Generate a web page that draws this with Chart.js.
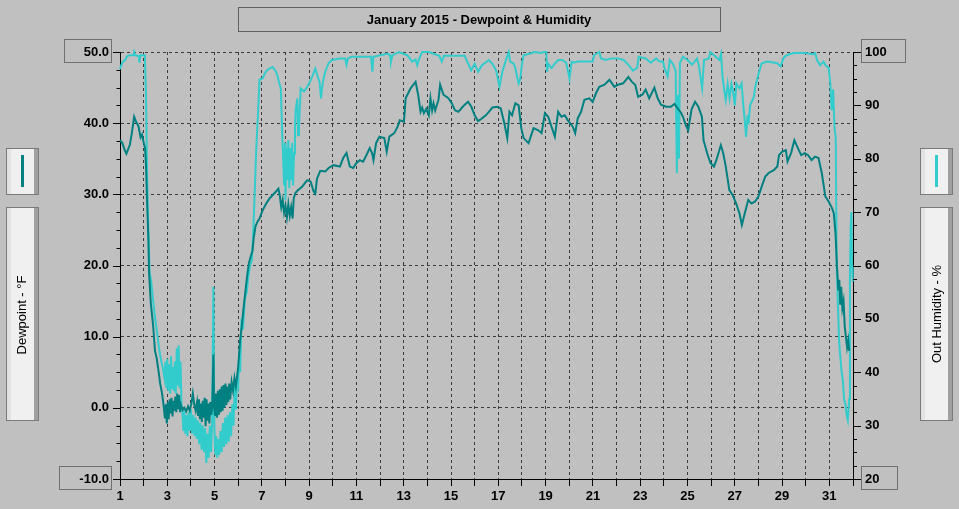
<!DOCTYPE html>
<html>
<head>
<meta charset="utf-8">
<title>January 2015 - Dewpoint & Humidity</title>
<script src="https://cdn.jsdelivr.net/npm/chart.js@4.4.0/dist/chart.umd.min.js"></script>
<style>
    html, body { margin: 0; padding: 0; background: #c0c0c0; overflow: hidden; }
    #chart { display: block; }
</style>
</head>
<body>
<canvas id="chart" width="959" height="509"></canvas>
<script>
const chartTitle = 'January 2015 - Dewpoint & Humidity';
const dewAxisTitle = 'Dewpoint - °F';
const humAxisTitle = 'Out Humidity - %';

// tick labels
const dayLabels = [1, 3, 5, 7, 9, 11, 13, 15, 17, 19, 21, 23, 25, 27, 29, 31];
const dewTicks = [-10, 0, 10, 20, 30, 40, 50];
const humTicks = [20, 30, 40, 50, 60, 70, 80, 90, 100];

// dewpoint readings (°F), day of month as fractional day
const dewDays = [
    1.00, 1.10, 1.20, 1.27, 1.35, 1.42, 1.50, 1.60, 1.68, 1.78, 1.87, 1.93, 2.00, 2.06, 2.10, 2.15,
    2.20, 2.23, 2.30, 2.40, 2.48, 2.55, 2.62, 2.70, 2.78, 2.85, 2.90, 2.94, 2.98, 3.02, 3.06, 3.10,
    3.14, 3.18, 3.22, 3.26, 3.30, 3.34, 3.38, 3.42, 3.46, 3.50, 3.54, 3.58, 3.65, 3.72, 3.80, 3.88,
    3.95, 4.02, 4.08, 4.14, 4.20, 4.26, 4.30, 4.34, 4.38, 4.42, 4.46, 4.50, 4.54, 4.58, 4.62, 4.66,
    4.70, 4.74, 4.78, 4.82, 4.86, 4.90, 4.95, 4.98, 5.02, 5.06, 5.10, 5.14, 5.18, 5.22, 5.26, 5.30,
    5.34, 5.38, 5.42, 5.46, 5.50, 5.54, 5.58, 5.62, 5.66, 5.72, 5.78, 5.84, 5.90, 5.96, 6.00, 6.08,
    6.15, 6.22, 6.30, 6.38, 6.45, 6.52, 6.60, 6.66, 6.73, 6.82, 6.90, 7.00, 7.10, 7.20, 7.32, 7.46,
    7.60, 7.70, 7.76, 7.82, 7.88, 7.94, 8.00, 8.06, 8.12, 8.18, 8.24, 8.30, 8.35, 8.42, 8.50, 8.60,
    8.71, 8.85, 8.92, 9.06, 9.19, 9.26, 9.33, 9.47, 9.68, 9.82, 10.03, 10.30, 10.44, 10.58, 10.72, 10.86,
    11.00, 11.14, 11.28, 11.42, 11.56, 11.66, 11.72, 11.83, 11.97, 12.18, 12.28, 12.39, 12.60, 12.74, 12.83, 13.01,
    13.08, 13.29, 13.50, 13.61, 13.71, 13.78, 13.85, 13.95, 14.06, 14.13, 14.20, 14.26, 14.33, 14.47, 14.54, 14.68,
    14.89, 15.03, 15.17, 15.31, 15.44, 15.58, 15.72, 15.86, 16.00, 16.14, 16.28, 16.47, 16.60, 16.75, 16.96, 17.10,
    17.24, 17.38, 17.47, 17.58, 17.72, 17.86, 17.97, 18.07, 18.28, 18.49, 18.69, 18.83, 18.97, 19.11, 19.25, 19.39,
    19.53, 19.67, 19.81, 19.94, 20.15, 20.25, 20.36, 20.50, 20.64, 20.85, 20.99, 21.13, 21.27, 21.49, 21.70, 21.91,
    22.06, 22.28, 22.50, 22.65, 22.79, 22.91, 23.09, 23.23, 23.38, 23.60, 23.74, 23.88, 24.10, 24.30, 24.45, 24.60,
    24.72, 24.81, 24.92, 25.03, 25.17, 25.32, 25.46, 25.61, 25.68, 25.83, 25.97, 26.12, 26.22, 26.41, 26.51, 26.62,
    26.77, 26.91, 27.06, 27.20, 27.30, 27.42, 27.57, 27.71, 27.86, 28.00, 28.14, 28.29, 28.43, 28.65, 28.80, 28.87,
    29.01, 29.16, 29.23, 29.38, 29.52, 29.67, 29.81, 29.96, 30.10, 30.25, 30.39, 30.54, 30.68, 30.83, 30.97, 31.12,
    31.19, 31.26, 31.32, 31.38, 31.42, 31.46, 31.50, 31.55, 31.60, 31.65, 31.70, 31.75, 31.80, 31.84
];
const dewValues = [
    37.6, 37.2, 36.2, 35.7, 36.4, 37.0, 38.6, 40.9, 40.2, 39.6, 38.0, 38.4, 37.3, 36.5, 34.0, 28.5,
    23.8, 19.0, 14.8, 11.6, 8.0, 7.0, 5.4, 3.4, 2.0, 0.2, -1.5, 0.5, -2.2, 0.8, -1.6, 1.2,
    -0.8, 1.4, -1.2, 1.0, -0.4, 1.6, -0.6, 2.0, -0.2, 1.8, -0.6, 0.4, -0.3, 0.0, -0.5, 0.2,
    -0.4, 0.6, 2.0, 0.5, -0.4, 0.8, -1.0, 1.2, -1.6, 0.6, -2.0, 1.0, -1.4, 1.4, -2.6, 1.2,
    -1.8, 0.6, -2.2, 0.8, -1.0, 0.2, 7.5, 0.0, -1.0, 2.0, -1.4, 2.4, -1.0, 2.6, -0.6, 3.0,
    -0.4, 3.2, 0.0, 3.4, 0.4, 3.0, 0.8, 3.4, 1.2, 3.6, 2.4, 4.2, 3.0, 4.6, 5.8, 9.5,
    11.5, 13.8, 16.3, 18.6, 20.3, 21.2, 22.0, 24.0, 25.5, 26.2, 26.6, 27.5, 28.2, 28.8, 29.4, 29.9,
    30.4, 30.8, 29.8, 28.2, 29.2, 27.4, 28.4, 26.8, 28.6, 27.0, 28.2, 26.6, 29.5, 30.2, 30.5, 30.8,
    31.1, 31.7, 32.0, 31.8, 30.4, 30.1, 32.2, 33.3, 33.2, 33.7, 34.1, 33.9, 35.1, 35.8, 33.9, 33.7,
    34.4, 34.8, 34.6, 35.5, 36.5, 35.8, 34.8, 37.2, 38.1, 37.9, 36.0, 38.1, 38.6, 39.5, 40.4, 40.2,
    43.5, 44.9, 45.8, 44.0, 41.6, 42.2, 41.4, 42.0, 41.1, 43.5, 41.8, 42.8, 41.8, 43.3, 45.4, 44.0,
    43.5, 42.8, 41.8, 41.6, 42.1, 42.6, 43.0, 42.3, 41.1, 40.3, 40.6, 41.1, 41.6, 42.2, 42.3, 42.1,
    40.2, 37.9, 41.6, 41.1, 42.8, 42.5, 39.3, 37.9, 37.2, 39.3, 39.0, 38.6, 41.4, 40.9, 39.5, 38.1,
    41.6, 40.9, 41.1, 40.4, 39.5, 38.6, 40.7, 41.6, 43.3, 43.5, 43.0, 44.2, 45.1, 45.4, 46.1, 45.1,
    45.4, 45.6, 46.5, 45.8, 45.4, 43.7, 44.0, 44.7, 43.5, 45.0, 43.5, 42.6, 42.3, 42.3, 42.7, 42.0,
    41.5, 40.9, 39.8, 39.0, 41.9, 43.0, 42.3, 40.9, 37.6, 35.8, 34.4, 33.9, 34.8, 36.9, 35.8, 33.9,
    30.6, 29.9, 28.7, 27.3, 25.7, 27.3, 29.2, 28.7, 29.0, 29.7, 31.1, 32.5, 33.0, 33.4, 33.9, 35.5,
    36.0, 36.2, 34.6, 35.8, 37.6, 36.5, 35.5, 35.8, 35.5, 34.8, 35.3, 35.1, 33.0, 29.7, 29.0, 28.0,
    27.3, 24.5, 20.0, 16.5, 18.0, 14.5, 17.0, 14.0, 15.0, 11.5, 10.0, 8.5, 9.5, 8.0
];

// outside humidity readings (%)
const humDays = [
    1.00, 1.05, 1.12, 1.22, 1.30, 1.40, 1.58, 1.60, 1.64, 1.80, 1.82, 1.86, 2.05, 2.10, 2.15, 2.20,
    2.25, 2.32, 2.40, 2.46, 2.52, 2.60, 2.68, 2.75, 2.82, 2.88, 2.92, 2.96, 3.00, 3.04, 3.08, 3.12,
    3.16, 3.20, 3.24, 3.28, 3.32, 3.36, 3.40, 3.44, 3.48, 3.52, 3.56, 3.60, 3.64, 3.68, 3.72, 3.76,
    3.80, 3.85, 3.90, 3.95, 4.00, 4.05, 4.10, 4.15, 4.20, 4.25, 4.30, 4.35, 4.40, 4.45, 4.50, 4.55,
    4.60, 4.65, 4.70, 4.75, 4.80, 4.85, 4.90, 4.95, 4.99, 5.03, 5.07, 5.11, 5.15, 5.20, 5.25, 5.30,
    5.35, 5.40, 5.45, 5.50, 5.55, 5.60, 5.65, 5.70, 5.75, 5.80, 5.85, 5.90, 5.95, 6.00, 6.04, 6.08,
    6.14, 6.20, 6.28, 6.36, 6.42, 6.50, 6.58, 6.64, 6.70, 6.76, 6.83, 6.90, 7.04, 7.10, 7.20, 7.32,
    7.46, 7.60, 7.66, 7.74, 7.80, 7.86, 7.90, 7.94, 7.98, 8.00, 8.04, 8.08, 8.12, 8.16, 8.20, 8.24,
    8.28, 8.32, 8.36, 8.40, 8.43, 8.50, 8.53, 8.57, 8.64, 8.78, 8.92, 9.03, 9.13, 9.26, 9.36, 9.44,
    9.50, 9.58, 9.68, 9.82, 9.96, 10.30, 10.52, 10.58, 10.64, 10.79, 11.56, 11.62, 11.67, 11.72, 12.32, 12.42,
    12.46, 12.52, 12.80, 13.15, 13.36, 13.50, 13.57, 13.64, 13.78, 14.06, 14.50, 14.61, 14.70, 15.58, 15.65, 15.72,
    15.85, 16.00, 16.15, 16.30, 16.45, 16.60, 16.75, 16.90, 16.98, 17.05, 17.17, 17.30, 17.44, 17.50, 17.65, 17.72,
    17.79, 17.86, 17.93, 18.00, 18.07, 18.42, 18.49, 18.83, 18.90, 19.03, 19.06, 19.11, 19.25, 19.39, 19.53, 19.70,
    19.87, 20.01, 20.10, 20.20, 20.36, 20.99, 21.05, 21.27, 21.34, 21.55, 21.77, 22.06, 22.30, 22.50, 22.70, 22.87,
    22.94, 23.23, 23.45, 23.67, 23.81, 23.96, 24.03, 24.16, 24.25, 24.38, 24.50, 24.55, 24.60, 24.64, 24.68, 24.81,
    25.00, 25.20, 25.40, 25.48, 25.62, 25.70, 25.90, 25.97, 26.19, 26.35, 26.42, 26.48, 26.55, 26.62, 26.70, 26.78,
    26.86, 26.93, 27.00, 27.07, 27.20, 27.29, 27.36, 27.42, 27.48, 27.54, 27.58, 27.65, 27.80, 27.87, 28.01, 28.14,
    28.38, 28.80, 28.94, 29.03, 29.10, 29.25, 29.50, 29.97, 30.30, 30.40, 30.48, 30.61, 30.75, 30.84, 30.97, 31.04,
    31.10, 31.16, 31.22, 31.27, 31.31, 31.36, 31.41, 31.46, 31.52, 31.57, 31.62, 31.68, 31.73, 31.78, 31.84, 31.87,
    31.90, 31.93, 31.96, 31.99
];
const humValues = [
    96.8, 97.5, 98.2, 98.5, 99.2, 99.4, 99.4, 100.0, 99.4, 99.2, 98.0, 99.4, 99.4, 92.0, 76.3, 66.3,
    58.8, 57.0, 53.5, 51.0, 49.0, 46.3, 43.6, 42.0, 40.5, 39.0, 42.0, 37.0, 42.5, 36.5, 41.5, 36.0,
    43.0, 37.0, 41.0, 36.5, 42.0, 36.0, 44.5, 37.5, 45.0, 37.0, 42.0, 34.0, 32.5, 29.0, 32.8, 28.5,
    32.0, 28.0, 32.5, 29.0, 33.0, 28.5, 32.0, 28.0, 31.5, 27.5, 31.0, 26.5, 30.5, 25.5, 30.0, 25.0,
    29.5, 23.0, 28.5, 24.0, 30.0, 25.0, 31.0, 56.0, 30.0, 24.5, 28.0, 24.0, 27.5, 24.5, 29.0, 25.0,
    30.5, 26.0, 31.5, 26.5, 32.0, 27.0, 32.5, 28.0, 34.0, 30.0, 37.5, 33.0, 38.5, 37.5, 44.0, 40.0,
    50.0, 48.0, 53.8, 55.0, 57.6, 60.0, 61.0, 67.0, 74.0, 81.6, 87.9, 94.8, 95.1, 95.8, 96.5, 96.9,
    97.2, 96.3, 95.5, 94.1, 93.2, 84.8, 80.0, 75.0, 83.0, 72.3, 82.0, 76.0, 83.5, 74.5, 82.0, 76.0,
    83.0, 75.0, 81.0, 86.0, 89.1, 91.3, 84.4, 86.0, 93.2, 92.6, 93.5, 94.4, 95.4, 96.9, 95.4, 94.4,
    91.3, 94.4, 96.3, 97.9, 98.5, 98.8, 98.8, 97.6, 98.8, 99.1, 99.1, 99.1, 96.3, 99.1, 99.7, 99.4,
    98.2, 99.4, 100.0, 99.4, 98.2, 98.6, 97.5, 98.6, 100.0, 100.0, 99.3, 98.2, 99.3, 99.3, 98.5, 97.9,
    96.6, 97.8, 96.3, 97.5, 98.0, 98.5, 97.8, 96.6, 95.0, 93.5, 96.3, 98.2, 100.0, 98.2, 97.8, 97.0,
    95.4, 94.1, 95.0, 97.8, 99.4, 99.8, 100.0, 99.8, 100.0, 100.0, 96.3, 97.8, 97.0, 97.8, 98.5, 98.5,
    98.0, 95.0, 98.2, 98.0, 98.2, 98.2, 99.4, 100.0, 98.8, 98.5, 98.8, 98.8, 98.5, 97.6, 96.5, 97.0,
    99.1, 98.8, 98.0, 98.8, 98.2, 98.2, 97.0, 95.4, 98.5, 97.8, 96.5, 77.3, 92.0, 80.0, 98.0, 99.1,
    98.5, 97.6, 98.8, 97.5, 93.2, 98.5, 98.8, 100.0, 99.1, 98.5, 99.7, 95.4, 93.0, 91.0, 94.0, 91.3,
    94.0, 92.5, 90.0, 94.1, 93.2, 94.1, 90.0, 87.3, 84.1, 88.2, 86.5, 90.0, 91.5, 93.5, 96.0, 97.9,
    98.2, 97.9, 97.3, 98.5, 99.1, 99.5, 99.8, 99.8, 99.6, 99.8, 98.5, 97.5, 98.2, 97.5, 97.0, 94.1,
    89.1, 93.0, 85.7, 84.0, 60.0, 53.0, 46.0, 43.0, 40.0, 38.5, 35.0, 34.0, 32.0, 31.0, 35.0, 58.0,
    67.0, 70.0, 60.0, 57.0
];

const dewColor = '#008080';
const humColor = '#33cccc';
const gridColor = '#3c3c3c';
const tickFont = { family: "'Liberation Sans', Arial, sans-serif", size: 13, weight: 'bold' };

// panel with the 3d look used for the legend swatches and axis titles
function drawPanel(ctx, x, y, w, h) {
    ctx.fillStyle = '#f0f0f0';
    ctx.fillRect(x, y, w, h);
    ctx.fillStyle = '#e2e2e2';
    ctx.fillRect(x + 1, y + 1, 4, h - 2);
    ctx.fillStyle = '#a0a0a0';
    ctx.fillRect(x + w - 5, y + 1, 4, h - 2);
    ctx.strokeStyle = '#7a7a7a';
    ctx.lineWidth = 1;
    ctx.strokeRect(x + 0.5, y + 0.5, w - 1, h - 1);
}

function drawVerticalText(ctx, text, cx, cy) {
    ctx.save();
    ctx.translate(cx, cy);
    ctx.rotate(-Math.PI / 2);
    ctx.font = "13px 'Liberation Sans', Arial, sans-serif";
    ctx.fillStyle = '#000';
    ctx.textAlign = 'center';
    ctx.textBaseline = 'middle';
    ctx.fillText(text, 0, 0);
    ctx.restore();
}

const decorPlugin = {
    id: 'decor',
    beforeDraw(chart) {
        const ctx = chart.ctx;
        ctx.save();
        ctx.fillStyle = '#c0c0c0';
        ctx.fillRect(0, 0, chart.width, chart.height);
        ctx.restore();
    },
    afterDraw(chart) {
        const { ctx, scales: { y, y1 } } = chart;
        ctx.save();

        // major and minor tick marks on both value axes
        ctx.strokeStyle = '#000';
        ctx.lineWidth = 1;
        ctx.beginPath();
        for (let v = y.min; v <= y.max; v += 2.5) {
            const py = Math.round(y.getPixelForValue(v)) + 0.5;
            const len = v % 10 === 0 ? 7 : 3.5;
            ctx.moveTo(y.right - len, py);
            ctx.lineTo(y.right, py);
        }
        for (let v = y1.min; v <= y1.max; v += 2.5) {
            const py = Math.round(y1.getPixelForValue(v)) + 0.5;
            const len = v % 10 === 0 ? 8 : 4;
            ctx.moveTo(y1.left, py);
            ctx.lineTo(y1.left + len, py);
        }
        ctx.stroke();

        // boxes round the end labels of each axis
        ctx.font = `bold 13px ${tickFont.family}`;
        ctx.strokeStyle = '#707070';
        const leftBox = (v, label) => {
            const py = Math.round(y.getPixelForValue(v));
            const w = ctx.measureText(label).width;
            const right = y.right - 8.5;
            const left = Math.round(y.right - 11 - w - 20) + 0.5;
            ctx.strokeRect(left, py - 12.5, right - left, 23);
        };
        const rightBox = (v, label) => {
            const py = Math.round(y1.getPixelForValue(v));
            const w = ctx.measureText(label).width;
            const left = y1.left + 8.5;
            const right = Math.round(y1.left + 12 + w + 18) + 0.5;
            ctx.strokeRect(left, py - 12.5, right - left, 23);
        };
        leftBox(y.max, y.max.toFixed(1));
        leftBox(y.min, y.min.toFixed(1));
        rightBox(y1.max, String(y1.max));
        rightBox(y1.min, String(y1.min));

        // title box
        ctx.strokeStyle = '#606060';
        ctx.strokeRect(238.5, 7.5, 482, 24);
        ctx.fillStyle = '#000';
        ctx.textAlign = 'center';
        ctx.textBaseline = 'middle';
        ctx.fillText(chartTitle, 479, 20);

        // legend swatches and axis titles
        drawPanel(ctx, 6, 148, 33, 47);
        drawPanel(ctx, 6, 207, 33, 214);
        drawPanel(ctx, 920, 148, 33, 47);
        drawPanel(ctx, 920, 207, 33, 214);

        ctx.lineWidth = 3;
        ctx.strokeStyle = dewColor;
        ctx.beginPath();
        ctx.moveTo(22.5, 155);
        ctx.lineTo(22.5, 187);
        ctx.stroke();
        ctx.strokeStyle = humColor;
        ctx.beginPath();
        ctx.moveTo(936.5, 155);
        ctx.lineTo(936.5, 187);
        ctx.stroke();

        drawVerticalText(ctx, dewAxisTitle, 22, 315);
        drawVerticalText(ctx, humAxisTitle, 937, 314);

        ctx.restore();
    }
};

const dewPoints = dewDays.map((d, i) => ({ x: d, y: dewValues[i] }));
const humPoints = humDays.map((d, i) => ({ x: d, y: humValues[i] }));

const ctx = document.getElementById('chart').getContext('2d');
new Chart(ctx, {
    type: 'line',
    data: {
        datasets: [
            {
                label: 'Dewpoint',
                data: dewPoints,
                yAxisID: 'y',
                borderColor: dewColor,
                borderWidth: 2,
                pointRadius: 0,
                tension: 0,
                order: 0,
                clip: 3
            },
            {
                label: 'Out Humidity',
                data: humPoints,
                yAxisID: 'y1',
                borderColor: humColor,
                borderWidth: 2,
                pointRadius: 0,
                tension: 0,
                order: 1,
                clip: 3
            }
        ]
    },
    options: {
        responsive: false,
        animation: false,
        devicePixelRatio: 1,
        layout: { padding: { top: 52, left: 0, right: 0, bottom: 0 } },
        plugins: {
            legend: { display: false },
            tooltip: { enabled: false }
        },
        scales: {
            x: {
                type: 'linear',
                min: 1,
                max: 32,
                afterFit: s => { s.height = 30; },
                ticks: {
                    stepSize: 1,
                    autoSkip: false,
                    maxRotation: 0,
                    padding: 3,
                    color: '#000',
                    font: tickFont,
                    callback: v => dayLabels.includes(v) ? String(v) : ''
                },
                grid: {
                    color: gridColor,
                    lineWidth: 1,
                    drawTicks: true,
                    tickLength: 7,
                    tickColor: '#000'
                },
                border: { display: true, color: '#000', width: 1, dash: [3, 3] }
            },
            y: {
                type: 'linear',
                position: 'left',
                min: -10,
                max: 50,
                afterFit: s => { s.width = 120; },
                afterBuildTicks: s => { s.ticks = dewTicks.map(v => ({ value: v })); },
                ticks: {
                    padding: 11,
                    color: '#000',
                    font: tickFont,
                    callback: v => v.toFixed(1)
                },
                grid: {
                    color: gridColor,
                    lineWidth: 1,
                    drawTicks: false
                },
                border: { display: true, color: '#000', width: 1, dash: [3, 3] }
            },
            y1: {
                type: 'linear',
                position: 'right',
                min: 20,
                max: 100,
                afterFit: s => { s.width = 106; },
                afterBuildTicks: s => { s.ticks = humTicks.map(v => ({ value: v })); },
                ticks: {
                    padding: 12,
                    color: '#000',
                    font: tickFont,
                    callback: v => String(v)
                },
                grid: { display: false, drawTicks: false },
                border: { display: true, color: '#000', width: 1 }
            }
        }
    },
    plugins: [decorPlugin]
});
</script>
</body>
</html>
